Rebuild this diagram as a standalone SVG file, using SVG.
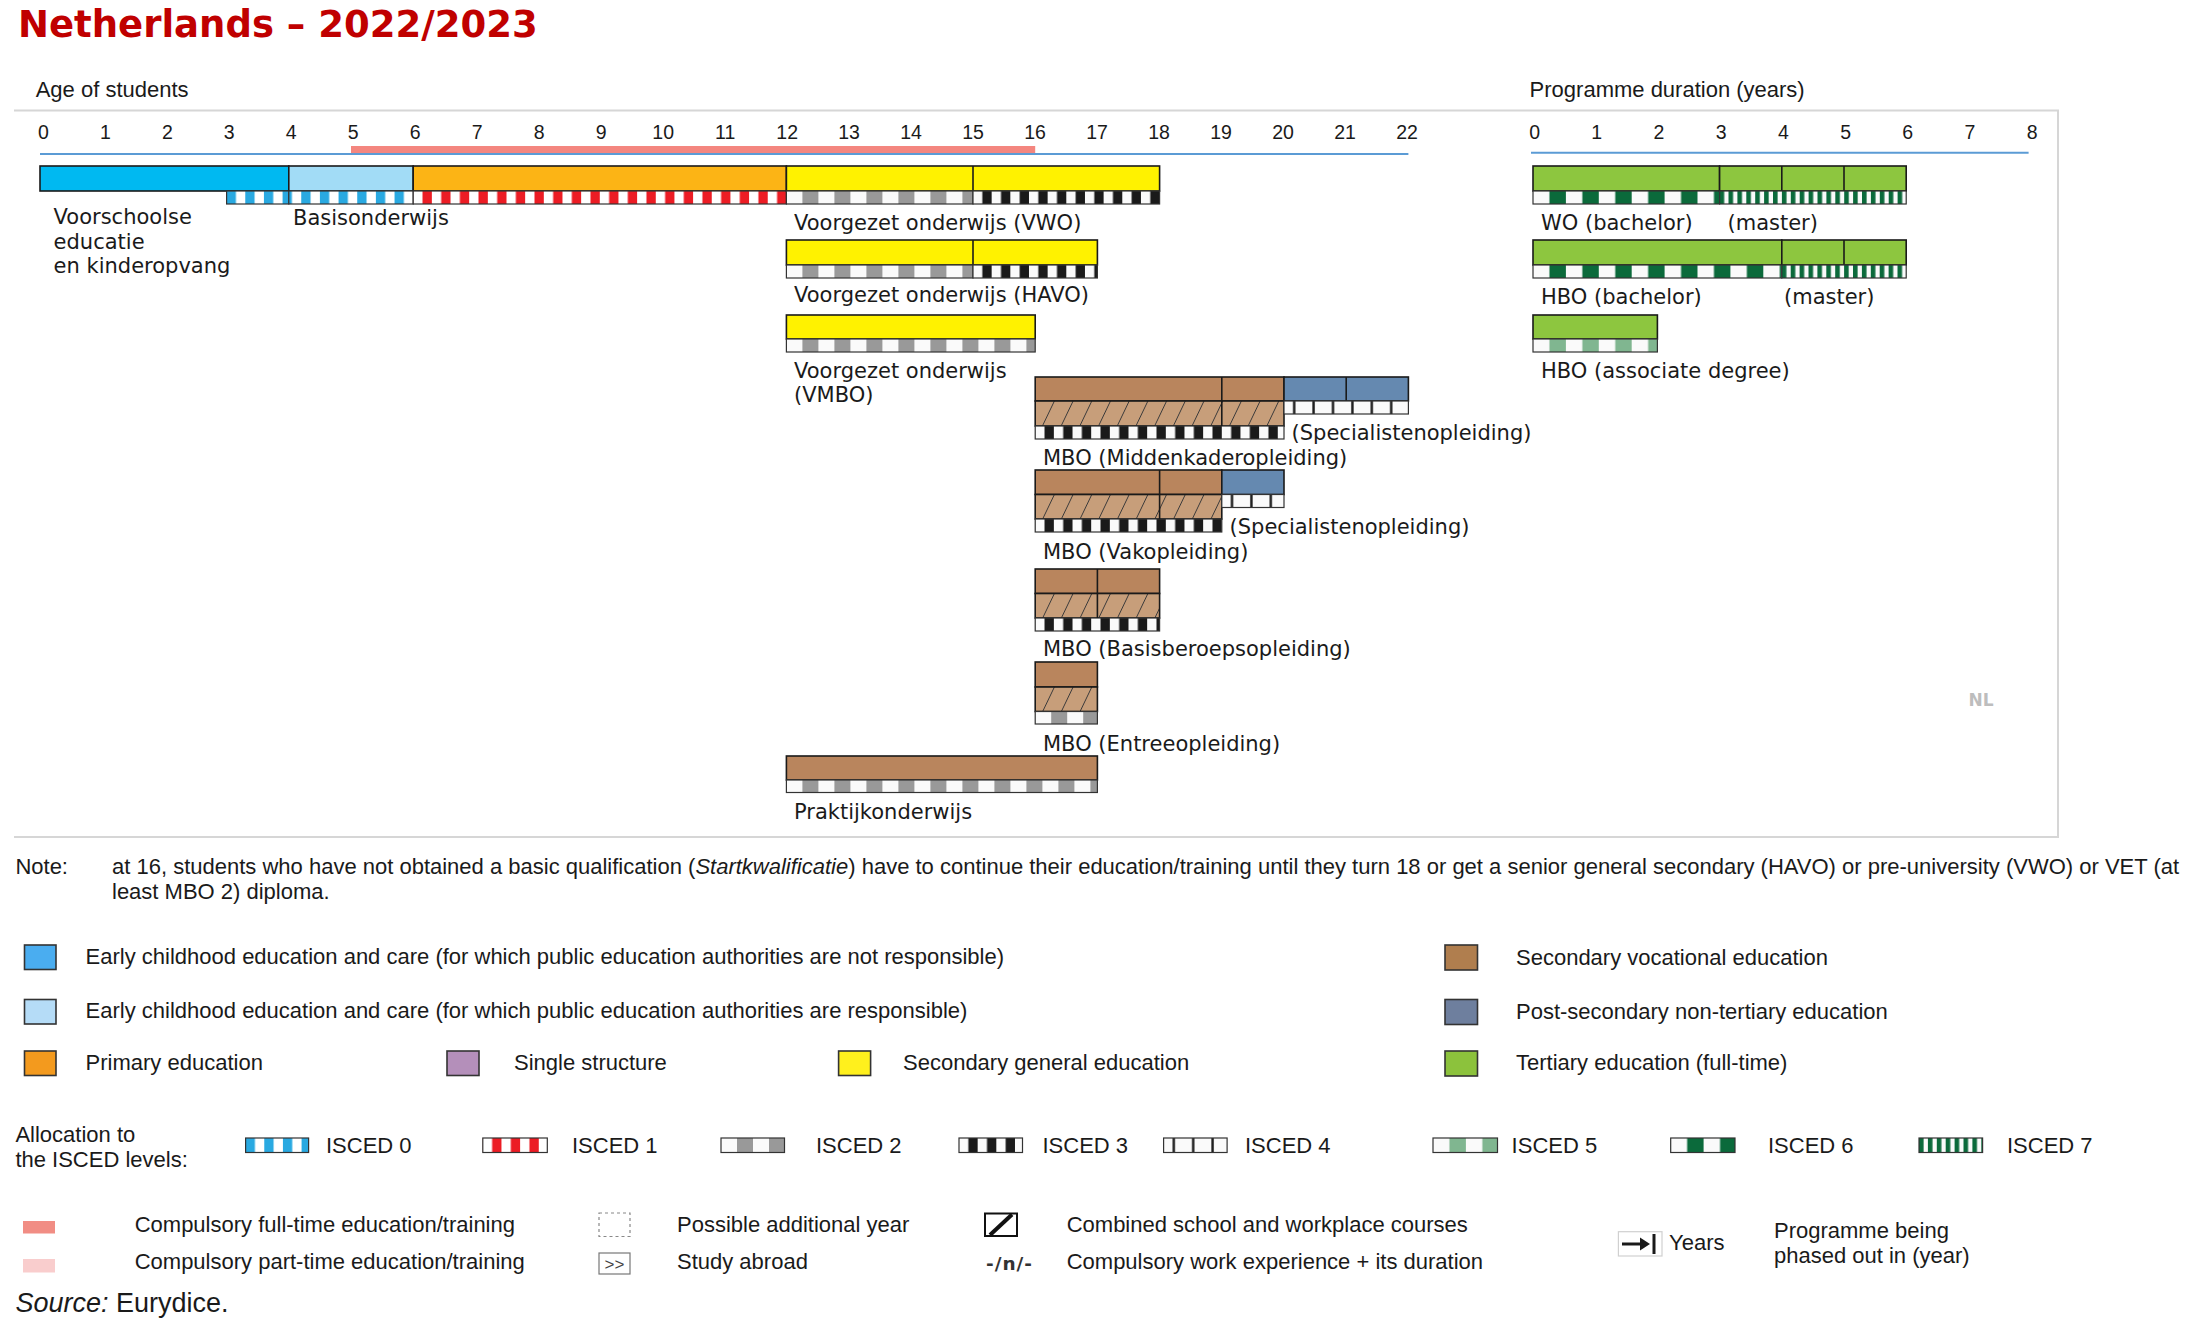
<svg xmlns="http://www.w3.org/2000/svg" width="2209" height="1333" viewBox="0 0 2209 1333">
<defs>
<style>
.t{font-family:"DejaVu Sans",Verdana,sans-serif;font-size:21px;fill:#1a1a1a}
.a{font-family:"Liberation Sans",Arial,sans-serif;font-size:22px;fill:#1a1a1a}
.tk{font-family:"Liberation Sans",Arial,sans-serif;font-size:19.5px;fill:#1a1a1a;text-anchor:middle}
.o{stroke:#1a1a1a;stroke-width:1.6}
.s{stroke:#333;stroke-width:1.2}
.d{stroke:#1a1a1a;stroke-width:1.6}
.sw{stroke:#333;stroke-width:1.6}
</style>
<pattern id="i0" width="18.66" height="20" patternUnits="userSpaceOnUse"><rect width="18.66" height="20" fill="#fff"/><rect width="9.33" height="20" fill="#29a9e1"/></pattern>
<pattern id="i1" width="18.66" height="20" patternUnits="userSpaceOnUse"><rect width="18.66" height="20" fill="#fff"/><rect x="9.33" width="9.33" height="20" fill="#ec1c24"/></pattern>
<pattern id="i2" width="32" height="20" patternUnits="userSpaceOnUse"><rect width="32" height="20" fill="#fafafa"/><rect x="16" width="16" height="20" fill="#999"/></pattern>
<pattern id="i3" width="18.66" height="20" patternUnits="userSpaceOnUse"><rect width="18.66" height="20" fill="#fafafa"/><rect x="9.33" width="9.33" height="20" fill="#1a1a1a"/></pattern>
<pattern id="i4" width="19.4" height="20" patternUnits="userSpaceOnUse"><rect width="19.4" height="20" fill="#fafafa"/><rect x="9" width="2.4" height="20" fill="#1a1a1a"/></pattern>
<pattern id="i5" width="32.9" height="20" patternUnits="userSpaceOnUse"><rect width="32.9" height="20" fill="#fafafa"/><rect x="16.45" width="16.45" height="20" fill="#80b690"/></pattern>
<pattern id="i6" width="32.9" height="20" patternUnits="userSpaceOnUse"><rect width="32.9" height="20" fill="#fafafa"/><rect x="16.45" width="16.45" height="20" fill="#0b6a3b"/></pattern>
<pattern id="i7" width="8.9" height="20" patternUnits="userSpaceOnUse"><rect width="8.9" height="20" fill="#fafafa"/><rect width="4.6" height="20" fill="#0b6a3b"/></pattern>
<pattern id="hb" width="18.7" height="40" patternUnits="userSpaceOnUse" patternTransform="skewX(-25.6)"><rect width="18.7" height="40" fill="#c79e7a"/><rect width="1" height="40" fill="#3a3a3a"/></pattern>
</defs>
<rect width="2209" height="1333" fill="#fff"/>

<g id="title"><text x="18" y="37" style="font-family:'DejaVu Sans',Verdana,sans-serif;font-weight:bold;font-size:37px;fill:#c00000">Netherlands – 2022/2023</text></g>

<g id="frame"><path d="M14 110.5H2058V837H14" fill="none" stroke="#d6d6d6" stroke-width="2"/></g>

<g id="age-axis">
<text class="a" x="35.7" y="97">Age of students</text>
<text class="tk" x="43.4" y="139">0</text><text class="tk" x="105.4" y="139">1</text><text class="tk" x="167.4" y="139">2</text><text class="tk" x="229.3" y="139">3</text><text class="tk" x="291.3" y="139">4</text><text class="tk" x="353.3" y="139">5</text><text class="tk" x="415.3" y="139">6</text><text class="tk" x="477.3" y="139">7</text><text class="tk" x="539.2" y="139">8</text><text class="tk" x="601.2" y="139">9</text><text class="tk" x="663.2" y="139">10</text><text class="tk" x="725.2" y="139">11</text><text class="tk" x="787.2" y="139">12</text><text class="tk" x="849.1" y="139">13</text><text class="tk" x="911.1" y="139">14</text><text class="tk" x="973.1" y="139">15</text><text class="tk" x="1035.1" y="139">16</text><text class="tk" x="1097.1" y="139">17</text><text class="tk" x="1159" y="139">18</text><text class="tk" x="1221" y="139">19</text><text class="tk" x="1283" y="139">20</text><text class="tk" x="1345" y="139">21</text><text class="tk" x="1407" y="139">22</text>
<rect x="351" y="146" width="684.2" height="7" fill="#f4867f"/>
<line x1="40" y1="154" x2="1408.4" y2="154" stroke="#5b9bd5" stroke-width="2"/>
</g>

<g id="duration-axis">
<text class="a" x="1529.6" y="97">Programme duration (years)</text>
<text class="tk" x="1534.6" y="139">0</text><text class="tk" x="1596.8" y="139">1</text><text class="tk" x="1659" y="139">2</text><text class="tk" x="1721.2" y="139">3</text><text class="tk" x="1783.4" y="139">4</text><text class="tk" x="1845.6" y="139">5</text><text class="tk" x="1907.8" y="139">6</text><text class="tk" x="1970" y="139">7</text><text class="tk" x="2032.2" y="139">8</text>
<line x1="1531" y1="152.7" x2="2028.6" y2="152.7" stroke="#5b9bd5" stroke-width="2"/>
</g>

<g id="voorschoolse">
<rect x="40" y="166" width="248.8" height="25" fill="#00b9f1" class="o"/>
<rect transform="translate(226.6,191)" width="62.2" height="13" fill="url(#i0)" class="s"/>
<text class="t" x="53.6" y="224">Voorschoolse</text>
<text class="t" x="53.6" y="249">educatie</text>
<text class="t" x="53.6" y="273">en kinderopvang</text>
</g>

<g id="basisonderwijs">
<rect x="288.8" y="166" width="124.4" height="25" fill="#a2dcf6" class="o"/>
<rect x="413.2" y="166" width="373.2" height="25" fill="#fcb415" class="o"/>
<rect transform="translate(226.6,191)" x="62.2" width="124.4" height="13" fill="url(#i0)" class="s"/>
<rect transform="translate(413.2,191)" width="373.2" height="13" fill="url(#i1)" class="s"/>
<text class="t" x="293" y="225">Basisonderwijs</text>
</g>

<g id="vwo">
<rect x="786.4" y="166" width="373.2" height="25" fill="#fff200" class="o"/>
<line x1="973" y1="166" x2="973" y2="204" class="d"/>
<rect transform="translate(786.4,191)" width="186.6" height="13" fill="url(#i2)" class="s"/>
<rect transform="translate(973,191)" width="186.6" height="13" fill="url(#i3)" class="s"/>
<text class="t" x="794" y="230">Voorgezet onderwijs (VWO)</text>
</g>

<g id="havo">
<rect x="786.4" y="240" width="311" height="25" fill="#fff200" class="o"/>
<line x1="973" y1="240" x2="973" y2="278" class="d"/>
<rect transform="translate(786.4,265)" width="186.6" height="13" fill="url(#i2)" class="s"/>
<rect transform="translate(973,265)" width="124.4" height="13" fill="url(#i3)" class="s"/>
<text class="t" x="794" y="302">Voorgezet onderwijs (HAVO)</text>
</g>

<g id="vmbo">
<rect x="786.4" y="315" width="248.8" height="24" fill="#fff200" class="o"/>
<rect transform="translate(786.4,339)" width="248.8" height="13" fill="url(#i2)" class="s"/>
<text class="t" x="794" y="378">Voorgezet onderwijs</text>
<text class="t" x="794" y="402">(VMBO)</text>
</g>

<g id="mbo-middenkader">
<rect x="1035.2" y="377" width="248.8" height="24" fill="#b9855d" class="o"/>
<rect transform="translate(1035.2,401)" width="248.8" height="25" fill="url(#hb)" class="o"/>
<rect transform="translate(1035.2,426)" width="248.8" height="13" fill="url(#i3)" class="s"/>
<line x1="1221.8" y1="377" x2="1221.8" y2="426" class="d"/>
<text class="t" x="1043" y="465">MBO (Middenkaderopleiding)</text>
</g>

<g id="specialisten-1">
<rect x="1284" y="377" width="124.4" height="24" fill="#6589b0" class="o"/>
<line x1="1346.2" y1="377" x2="1346.2" y2="401" class="d"/>
<rect transform="translate(1284,401)" width="124.4" height="13" fill="url(#i4)" class="s"/>
<text class="t" x="1291.6" y="440">(Specialistenopleiding)</text>
</g>

<g id="mbo-vak">
<rect x="1035.2" y="470" width="186.6" height="24.5" fill="#b9855d" class="o"/>
<rect transform="translate(1035.2,494.5)" width="186.6" height="24.5" fill="url(#hb)" class="o"/>
<rect transform="translate(1035.2,519)" width="186.6" height="13" fill="url(#i3)" class="s"/>
<line x1="1159.6" y1="470" x2="1159.6" y2="519" class="d"/>
<text class="t" x="1043" y="559">MBO (Vakopleiding)</text>
</g>

<g id="specialisten-2">
<rect x="1221.8" y="470" width="62.2" height="24.5" fill="#6589b0" class="o"/>
<rect transform="translate(1221.8,494.5)" width="62.2" height="13" fill="url(#i4)" class="s"/>
<text class="t" x="1229.6" y="534">(Specialistenopleiding)</text>
</g>

<g id="mbo-basis">
<rect x="1035.2" y="569" width="124.4" height="24.5" fill="#b9855d" class="o"/>
<rect transform="translate(1035.2,593.5)" width="124.4" height="24.5" fill="url(#hb)" class="o"/>
<rect transform="translate(1035.2,618)" width="124.4" height="13" fill="url(#i3)" class="s"/>
<line x1="1097.4" y1="569" x2="1097.4" y2="618" class="d"/>
<text class="t" x="1043" y="656">MBO (Basisberoepsopleiding)</text>
</g>

<g id="mbo-entree">
<rect x="1035.2" y="662" width="62.2" height="25" fill="#b9855d" class="o"/>
<rect transform="translate(1035.2,687)" width="62.2" height="24.5" fill="url(#hb)" class="o"/>
<rect transform="translate(1035.2,711.5)" width="62.2" height="12.5" fill="url(#i2)" class="s"/>
<text class="t" x="1043" y="751">MBO (Entreeopleiding)</text>
</g>

<g id="praktijk">
<rect x="786.4" y="756" width="311" height="24" fill="#b9855d" class="o"/>
<rect transform="translate(786.4,780)" width="311" height="12.5" fill="url(#i2)" class="s"/>
<text class="t" x="794" y="819">Praktijkonderwijs</text>
</g>

<g id="wo-bachelor">
<rect x="1533" y="166" width="186.6" height="25" fill="#8dc63f" class="o"/>
<rect transform="translate(1533,191)" width="186.6" height="13" fill="url(#i6)" class="s"/>
<text class="t" x="1541" y="230">WO (bachelor)</text>
</g>
<g id="wo-master">
<rect x="1719.6" y="166" width="186.6" height="25" fill="#8dc63f" class="o"/>
<line x1="1781.8" y1="166" x2="1781.8" y2="191" class="d"/>
<line x1="1844" y1="166" x2="1844" y2="191" class="d"/>
<rect transform="translate(1719.6,191)" width="186.6" height="13" fill="url(#i7)" class="s"/>
<text class="t" x="1727.5" y="230">(master)</text>
</g>

<g id="hbo-bachelor">
<rect x="1533" y="240" width="248.8" height="25" fill="#8dc63f" class="o"/>
<rect transform="translate(1533,265)" width="248.8" height="13" fill="url(#i6)" class="s"/>
<text class="t" x="1541" y="304">HBO (bachelor)</text>
</g>
<g id="hbo-master">
<rect x="1781.8" y="240" width="124.4" height="25" fill="#8dc63f" class="o"/>
<line x1="1844" y1="240" x2="1844" y2="265" class="d"/>
<rect transform="translate(1781.8,265)" width="124.4" height="13" fill="url(#i7)" class="s"/>
<text class="t" x="1784" y="304">(master)</text>
</g>

<g id="hbo-associate">
<rect x="1533" y="315" width="124.4" height="24" fill="#8dc63f" class="o"/>
<rect transform="translate(1533,339)" width="124.4" height="13" fill="url(#i5)" class="s"/>
<text class="t" x="1541" y="378">HBO (associate degree)</text>
</g>

<g id="country-code"><text x="1981" y="706" text-anchor="middle" style="font-family:'DejaVu Sans',Verdana,sans-serif;font-weight:bold;font-size:17px;fill:#bdbdbd">NL</text></g>

<g id="connectors"></g>

<g id="note">
<text class="a" x="15.4" y="874">Note:</text>
<text class="a" x="112" y="874">at 16, students who have not obtained a basic qualification (<tspan font-style="italic">Startkwalificatie</tspan>) have to continue their education/training until they turn 18 or get a senior general secondary (HAVO) or pre-university (VWO) or VET (at</text>
<text class="a" x="112" y="899">least MBO 2) diploma.</text>
</g>

<g id="legend-colours">
<rect x="24.5" y="945" width="31.5" height="24.5" fill="#4aadf0" class="sw"/>
<text class="a" x="85.6" y="964">Early childhood education and care (for which public education authorities are not responsible)</text>
<rect x="24.5" y="999.5" width="31.5" height="24.5" fill="#b5dcf7" class="sw"/>
<text class="a" x="85.6" y="1018">Early childhood education and care (for which public education authorities are responsible)</text>
<rect x="24.5" y="1051" width="31.5" height="24.5" fill="#f39a1e" class="sw"/>
<text class="a" x="85.6" y="1070">Primary education</text>
<rect x="447" y="1051" width="32" height="24.5" fill="#b48fba" class="sw"/>
<text class="a" x="514" y="1070">Single structure</text>
<rect x="838.6" y="1051" width="32" height="24.5" fill="#fff01d" class="sw"/>
<text class="a" x="903" y="1070">Secondary general education</text>
<rect x="1445" y="945" width="32.5" height="25" fill="#b07e4e" class="sw"/>
<text class="a" x="1516" y="965">Secondary vocational education</text>
<rect x="1445" y="999.5" width="32.5" height="25" fill="#6e7f9e" class="sw"/>
<text class="a" x="1516" y="1019">Post-secondary non-tertiary education</text>
<rect x="1445" y="1051" width="32.5" height="25" fill="#8cc23c" class="sw"/>
<text class="a" x="1516" y="1070">Tertiary education (full-time)</text>
</g>

<g id="legend-isced">
<text class="a" x="15.4" y="1142">Allocation to</text>
<text class="a" x="15.4" y="1167">the ISCED levels:</text>
<rect transform="translate(245.6,1138)" width="63" height="14.5" fill="url(#i0)" class="s"/>
<text class="a" x="326" y="1153">ISCED 0</text>
<rect transform="translate(482.8,1138)" width="64.5" height="14.5" fill="url(#i1)" class="s"/>
<text class="a" x="572" y="1153">ISCED 1</text>
<rect transform="translate(721,1138)" width="63.5" height="14.5" fill="url(#i2)" class="s"/>
<text class="a" x="816" y="1153">ISCED 2</text>
<rect transform="translate(959,1138)" width="63.5" height="14.5" fill="url(#i3)" class="s"/>
<text class="a" x="1042.5" y="1153">ISCED 3</text>
<rect transform="translate(1163.6,1138)" width="63.5" height="14.5" fill="url(#i4)" class="s"/>
<text class="a" x="1245" y="1153">ISCED 4</text>
<rect transform="translate(1433,1138)" width="64.5" height="14.5" fill="url(#i5)" class="s"/>
<text class="a" x="1511.6" y="1153">ISCED 5</text>
<rect transform="translate(1670.7,1138)" width="64.3" height="14.5" fill="url(#i6)" class="s"/>
<text class="a" x="1768" y="1153">ISCED 6</text>
<rect transform="translate(1919,1138)" width="63.6" height="14.5" fill="url(#i7)" class="s"/>
<text class="a" x="2007" y="1153">ISCED 7</text>
</g>

<g id="legend-symbols">
<rect x="23" y="1221" width="32" height="12.5" fill="#f18d84"/>
<text class="a" x="134.7" y="1232">Compulsory full-time education/training</text>
<rect x="23" y="1259" width="32" height="13.5" fill="#f9cdcd"/>
<text class="a" x="134.7" y="1269">Compulsory part-time education/training</text>
<rect x="599" y="1213" width="31" height="23.5" fill="#fff" stroke="#888" stroke-width="1.2" stroke-dasharray="3,3"/>
<text class="a" x="677" y="1232">Possible additional year</text>
<rect x="599" y="1253" width="31" height="21" fill="#fff" stroke="#777" stroke-width="1.2"/>
<text x="614.5" y="1270" text-anchor="middle" style="font-family:'Liberation Sans',Arial,sans-serif;font-size:17px;fill:#444">&gt;&gt;</text>
<text class="a" x="677" y="1269">Study abroad</text>
<rect x="985" y="1213.5" width="32" height="22.5" fill="#fff" stroke="#111" stroke-width="2"/>
<line x1="990" y1="1235" x2="1012" y2="1214.5" stroke="#111" stroke-width="4"/>
<text class="a" x="1066.7" y="1232">Combined school and workplace courses</text>
<text x="986" y="1270" textLength="46" style="font-family:'DejaVu Sans',Verdana,sans-serif;font-weight:bold;font-size:18.5px;fill:#333">-/n/-</text>
<text class="a" x="1066.7" y="1269">Compulsory work experience + its duration</text>
<rect x="1618.4" y="1231.7" width="43.6" height="24.3" fill="#fff" stroke="#d0d0d0" stroke-width="1.2"/>
<line x1="1622" y1="1244" x2="1643" y2="1244" stroke="#1a1a1a" stroke-width="3"/>
<polygon points="1640,1237.5 1650,1244 1640,1250.5" fill="#1a1a1a"/>
<rect x="1652.5" y="1234" width="3" height="20" fill="#1a1a1a"/>
<text class="a" x="1669" y="1250">Years</text>
<text class="a" x="1774" y="1238">Programme being</text>
<text class="a" x="1774" y="1263">phased out in (year)</text>
</g>

<g id="source"><text x="15.4" y="1312" style="font-family:'Liberation Sans',Arial,sans-serif;font-size:27px;fill:#1a1a1a"><tspan font-style="italic">Source:</tspan> Eurydice.</text></g>
</svg>
